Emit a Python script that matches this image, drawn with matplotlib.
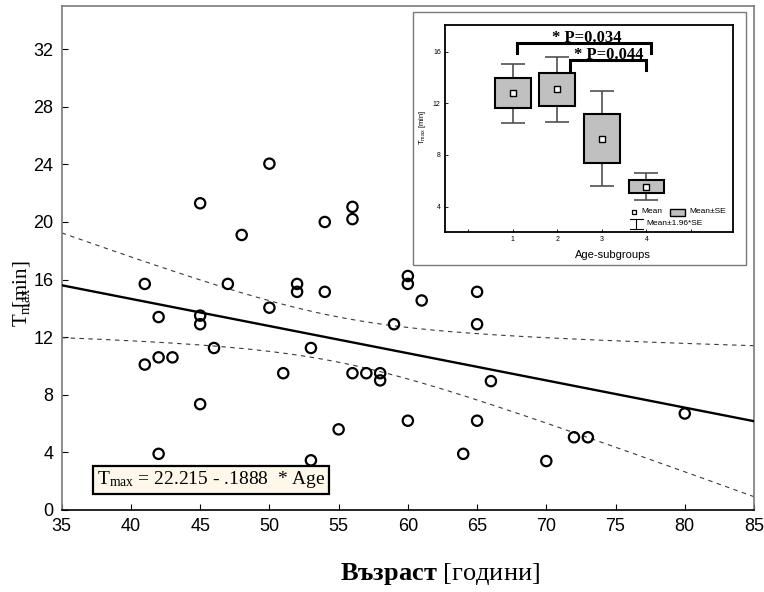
import numpy as np
import matplotlib
matplotlib.use("Agg")
import matplotlib.pyplot as plt
from matplotlib.patches import Rectangle
from matplotlib.lines import Line2D

plt.rcParams['font.family'] = ['Liberation Sans', 'DejaVu Sans']
plt.rcParams['mathtext.fontset'] = 'custom'
plt.rcParams['mathtext.rm'] = 'Liberation Serif'
plt.rcParams['mathtext.it'] = 'Liberation Serif:italic'
plt.rcParams['mathtext.bf'] = 'Liberation Serif:bold'

# ---- patient data: age [years] and T_max [min] ----
age = [41, 41, 42, 42, 42, 43, 45, 45, 45, 45, 46, 47, 48, 50, 50, 51, 52, 52,
       53, 53, 54, 54, 55, 56, 56, 56, 57, 58, 58, 59, 60, 60, 60, 61, 64,
       65, 65, 65, 66, 70, 72, 73, 80]
tmax = [15.7, 10.1, 13.4, 10.6, 3.9, 10.6, 21.3, 13.5, 12.9, 7.35, 11.25, 15.7,
        19.1, 24.05, 14.05, 9.5, 15.7, 15.15, 11.25, 3.45, 20.0, 15.15, 5.6,
        21.05, 20.2, 9.5, 9.5, 9.5, 9.0, 12.9, 16.25, 15.7, 6.2, 14.55, 3.9,
        15.15, 12.9, 6.2, 8.95, 3.4, 5.05, 5.05, 6.7]

# regression coefficients
INTERCEPT = 22.215
SLOPE = -0.1888

x_ticks = [35, 40, 45, 50, 55, 60, 65, 70, 75, 80, 85]
y_ticks = [0, 4, 8, 12, 16, 20, 24, 28, 32]

# ---- age subgroups ----
groups = [1, 2, 3, 4]
group_mean = [12.78, 13.09, 9.27, 5.55]
group_se = [1.16, 1.29, 1.87, 0.54]
inset_x_ticks = [0, 1, 2, 3, 4, 5]
inset_x_labels = ['', '1', '2', '3', '4', '']
inset_y_ticks = [4, 8, 12, 16]
p_values = ['0.034', '0.044']
p_pairs = [(1, 4), (2, 4)]

W, H = 764, 592
fig = plt.figure(figsize=(W / 100, H / 100), dpi=100)


def fx(px):
    return px / W


def fy(py):
    return 1 - py / H


# ================= main scatter =================
ax = fig.add_axes([fx(61.7), fy(510), (754 - 61.7) / W, (510 - 6) / H])
ax.set_zorder(0)
xa = np.asarray(age, float)
ya = np.asarray(tmax, float)
xx = np.linspace(35, 85, 300)
fit = INTERCEPT + SLOPE * xx
resid = ya - (INTERCEPT + SLOPE * xa)
n = len(xa)
s = np.sqrt(np.sum(resid ** 2) / (n - 2))
sxx = np.sum((xa - xa.mean()) ** 2)
t_crit = 2.0195
half = t_crit * s * np.sqrt(1 / n + (xx - xa.mean()) ** 2 / sxx)

ax.plot(xx, fit, color='black', lw=1.7, zorder=3)
for band in (fit + half, fit - half):
    ax.plot(xx, band, color='#3a3a3a', lw=0.8, ls=(0, (4, 4)), zorder=2)
ax.scatter(xa, ya, s=55, facecolors='none', edgecolors='black',
           linewidths=1.6, zorder=4)

ax.set_xlim(35, 85)
ax.set_ylim(0, 35)
ax.set_xticks(x_ticks)
ax.set_yticks(y_ticks)
ax.tick_params(direction='in', length=4, width=0.8, labelsize=13, pad=6,
               colors='black')
for side in ('left', 'top', 'right'):
    ax.spines[side].set_color('#7a7a7a')
    ax.spines[side].set_linewidth(1.2)
ax.spines['bottom'].set_color('black')
ax.spines['bottom'].set_linewidth(1.2)

eq = (r"T$_{\mathrm{max}}$ = " + f"{INTERCEPT:.3f} - " +
      f"{abs(SLOPE):.4f}"[1:] + "  * Age")
ax.text(0.216, 0.0605, eq, transform=ax.transAxes, ha='center', va='center',
        fontsize=14, family='Liberation Serif', zorder=6,
        bbox=dict(boxstyle='square,pad=0.18', fc='#fdf8ea', ec='black', lw=1.6))

# axis titles
fig.text(fx(440), fy(574), r"$\mathbf{Възраст}$ [години]", ha='center',
         va='center', fontsize=19, family='Liberation Serif')
# the subscript of T_max is overprinted by the unit, as in the original label
fig.text(fx(22), fy(327), r"T$_{\mathrm{max}}\hspace{-1.25}$[min]",
         rotation=90, ha='center', va='bottom', fontsize=15,
         family='Liberation Serif')

# ================= inset =================
fig.patches.append(Rectangle((fx(413), fy(265)), (746 - 413) / W, (265 - 12) / H,
                             transform=fig.transFigure, fc='white',
                             ec='#7a7a7a', lw=1.0, zorder=0.5))

ia = fig.add_axes([fx(445), fy(232.3), 288.3 / W, 207.3 / H])
ia.set_zorder(1)
gm = np.asarray(group_mean)
gs = np.asarray(group_se)
gx = np.asarray(groups, float)
ia.vlines(gx, gm + gs, gm + 1.96 * gs, color='#505050', lw=1.2, zorder=2)
ia.vlines(gx, gm - 1.96 * gs, gm - gs, color='#505050', lw=1.2, zorder=2)
ia.hlines(gm + 1.96 * gs, gx - 0.27, gx + 0.27, color='#505050', lw=1.2, zorder=2)
ia.hlines(gm - 1.96 * gs, gx - 0.27, gx + 0.27, color='#505050', lw=1.2, zorder=2)
ia.bar(gx, 2 * gs, bottom=gm - gs, width=0.8, color='#c0c0c0',
       edgecolor='black', lw=1.5, zorder=3)
ia.scatter(gx, gm, marker='s', s=14, facecolors='white', edgecolors='black',
           linewidths=1.0, zorder=4)

# significance brackets
bracket_geo = [(0.1, 0.1, 16.7, 15.9, 15.9), (0.28, 0.0, 15.36, 14.45, 14.6)]
for (g1, g2), (dl, dr, yh, yl, yr) in zip(p_pairs, bracket_geo):
    xl, xr = g1 + dl, g2 + dr
    ia.plot([xl, xl, xr, xr], [yl, yh, yh, yr], color='black', lw=2.2,
            solid_joinstyle='miter', zorder=5, clip_on=False)
ia.text(2.65, 16.78, "* P=" + p_values[0], ha='center', va='baseline',
        fontsize=12, fontweight='bold', family='Liberation Serif', zorder=6)
ia.text(3.15, 15.44, "* P=" + p_values[1], ha='center', va='baseline',
        fontsize=12, fontweight='bold', family='Liberation Serif', zorder=6)

ia.set_xlim(-0.52, 5.95)
ia.set_ylim(2, 18.07)
ia.set_xticks(inset_x_ticks)
ia.set_xticklabels(inset_x_labels)
ia.set_yticks(inset_y_ticks)
ia.tick_params(direction='in', length=2, width=0.6, labelsize=5, pad=3)
for sp in ia.spines.values():
    sp.set_linewidth(1.3)
    sp.set_color('black')

fig.text(fx(613), fy(255), "Age-subgroups", ha='center', va='center',
         fontsize=8)
fig.text(fx(423), fy(127), r"T$_{\mathregular{max}}$ [min]", rotation=90,
         ha='center', va='center', fontsize=5.5)

# legend
ia.scatter([0.656], [0.099], marker='s', s=12, facecolors='white',
           edgecolors='black', linewidths=0.9, transform=ia.transAxes,
           zorder=6, clip_on=False)
ia.text(0.682, 0.099, "Mean", transform=ia.transAxes, ha='left', va='center',
        fontsize=6)
ia.add_patch(Rectangle((0.780, 0.079), 0.052, 0.033, transform=ia.transAxes,
                       fc='#c0c0c0', ec='black', lw=1.0, zorder=6))
ia.text(0.849, 0.099, "Mean±SE", transform=ia.transAxes, ha='left',
        va='center', fontsize=6)
ia.add_line(Line2D([0.664, 0.664], [0.018, 0.066], transform=ia.transAxes,
                   color='black', lw=0.8))
ia.add_line(Line2D([0.642, 0.687], [0.066, 0.066], transform=ia.transAxes,
                   color='black', lw=0.8))
ia.add_line(Line2D([0.642, 0.687], [0.018, 0.018], transform=ia.transAxes,
                   color='black', lw=0.8))
ia.text(0.697, 0.042, "Mean±1.96*SE", transform=ia.transAxes, ha='left',
        va='center', fontsize=6)

fig.savefig("out.png", dpi=100)
